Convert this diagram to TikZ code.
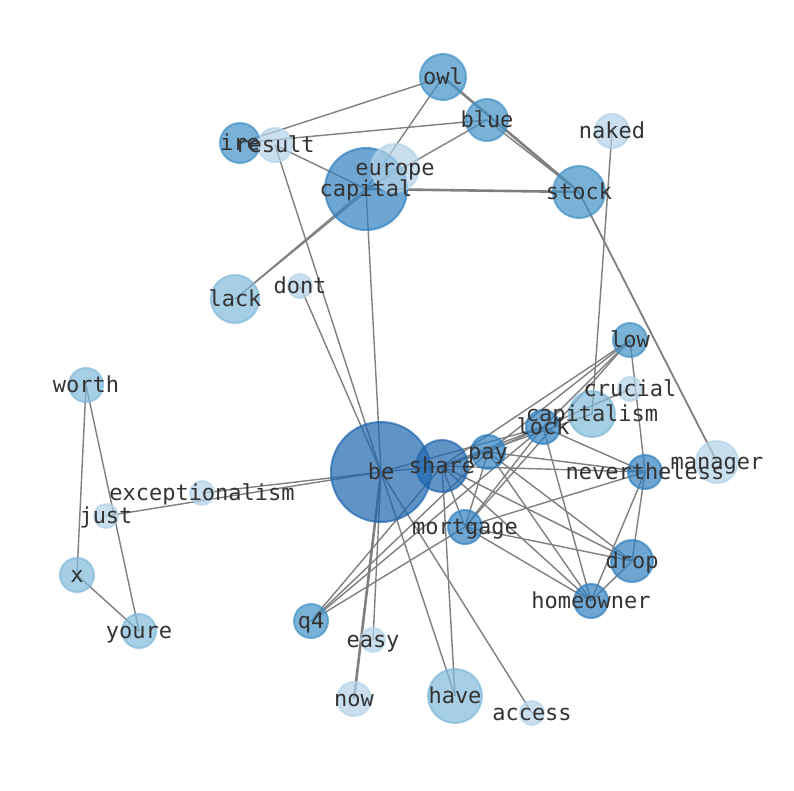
\documentclass[tikz,border=0pt]{standalone}
\usepackage{fontspec}
\setmonofont{DejaVu Sans Mono}
\usepackage{tikz}

\definecolor{blA}{HTML}{B3D3E8}
\definecolor{blB}{HTML}{80B9D9}
\definecolor{blC}{HTML}{4292C6}
\definecolor{blD}{HTML}{2F80C0}
\definecolor{blE}{HTML}{1E66AE}
\definecolor{edgegray}{HTML}{7F7F7F}
\definecolor{txtgray}{HTML}{333333}

\pgfdeclarelayer{bg}
\pgfsetlayers{bg,main}

\begin{document}
\begin{tikzpicture}[x=1pt,y=-1pt,
  word/.style={circle,inner sep=0pt,fill=#1,draw=#1,line width=2pt,opacity=0.7},
  lbl/.style={font=\ttfamily\fontsize{22}{26}\selectfont,text=txtgray,inner sep=0pt,text height=19pt,text depth=4pt},
  link/.style={draw=edgegray,line width=1.4pt},
  heavy/.style={draw=edgegray,line width=2.6pt}]
\useasboundingbox (0,0) rectangle (794,790);
% top group
\node[word=blC,minimum size=46pt] (owl) at (443,77) {};
\node[word=blC,minimum size=42pt] (blue) at (487,120) {};
\node[word=blC,minimum size=40pt] (ire) at (240,143) {};
\node[word=blA,minimum size=34pt] (result) at (275,145) {};
\node[word=blD,minimum size=82pt] (capital) at (366,189) {};
\node[word=blA,minimum size=48pt] (europe) at (395,168) {};
\node[word=blC,minimum size=52pt] (stock) at (579,192) {};
\node[word=blA,minimum size=34pt] (naked) at (612,131) {};
\node[word=blB,minimum size=48pt] (lack) at (235,299) {};
\node[word=blA,minimum size=24pt] (dont) at (300,286) {};
% middle group
\node[word=blC,minimum size=34pt] (low) at (630,340) {};
\node[word=blA,minimum size=24pt] (crucial) at (630,389) {};
\node[word=blB,minimum size=46pt] (capitalism) at (592,414) {};
\node[word=blD,minimum size=34pt] (lock) at (543,427) {};
\node[word=blD,minimum size=34pt] (pay) at (488,452) {};
\node[word=blE,minimum size=100pt] (be) at (381,472) {};
\node[word=blE,minimum size=52pt] (share) at (442,466) {};
\node[word=blD,minimum size=34pt] (nevertheless) at (645,472) {};
\node[word=blA,minimum size=42pt] (manager) at (717,462) {};
\node[word=blD,minimum size=34pt] (mortgage) at (465,527) {};
\node[word=blD,minimum size=42pt] (drop) at (632,561) {};
\node[word=blD,minimum size=34pt] (homeowner) at (591,601) {};
% left group
\node[word=blB,minimum size=34pt] (worth) at (86,385) {};
\node[word=blA,minimum size=24pt] (exceptionalism) at (202,493) {};
\node[word=blA,minimum size=24pt] (just) at (106,516) {};
\node[word=blB,minimum size=34pt] (x) at (77,575) {};
\node[word=blB,minimum size=34pt] (youre) at (139,631) {};
% bottom group
\node[word=blC,minimum size=34pt] (q4) at (311,621) {};
\node[word=blA,minimum size=24pt] (easy) at (373,640) {};
\node[word=blA,minimum size=34pt] (now) at (354,699) {};
\node[word=blB,minimum size=54pt] (have) at (455,696) {};
\node[word=blA,minimum size=24pt] (access) at (532,713) {};

% labels
\node[lbl] (owl-t) at (owl) {owl};
\node[lbl] (blue-t) at (blue) {blue};
\node[lbl] (ire-t) at (ire) {ire};
\node[lbl] (result-t) at (result) {result};
\node[lbl] (capital-t) at (capital) {capital};
\node[lbl] (europe-t) at (europe) {europe};
\node[lbl] (stock-t) at (stock) {stock};
\node[lbl] (naked-t) at (naked) {naked};
\node[lbl] (lack-t) at (lack) {lack};
\node[lbl] (dont-t) at (dont) {dont};
\node[lbl] (low-t) at (low) {low};
\node[lbl] (crucial-t) at (crucial) {crucial};
\node[lbl] (capitalism-t) at (capitalism) {capitalism};
\node[lbl] (lock-t) at (lock) {lock};
\node[lbl] (pay-t) at (pay) {pay};
\node[lbl] (be-t) at (be) {be};
\node[lbl] (share-t) at (share) {share};
\node[lbl] (nevertheless-t) at (nevertheless) {nevertheless};
\node[lbl] (manager-t) at (manager) {manager};
\node[lbl] (mortgage-t) at (mortgage) {mortgage};
\node[lbl] (drop-t) at (drop) {drop};
\node[lbl] (homeowner-t) at (homeowner) {homeowner};
\node[lbl] (worth-t) at (worth) {worth};
\node[lbl] (exceptionalism-t) at (exceptionalism) {exceptionalism};
\node[lbl] (just-t) at (just) {just};
\node[lbl] (x-t) at (x) {x};
\node[lbl] (youre-t) at (youre) {youre};
\node[lbl] (q4-t) at (q4) {q4};
\node[lbl] (easy-t) at (easy) {easy};
\node[lbl] (now-t) at (now) {now};
\node[lbl] (have-t) at (have) {have};
\node[lbl] (access-t) at (access) {access};

\begin{pgfonlayer}{bg}
% edges
\draw[link] (owl.center) -- (ire.center);
\draw[link] (owl.center) -- (capital.center);
\draw[heavy] (owl.center) -- (stock.center);
\draw[link] (blue.center) -- (ire.center);
\draw[link] (blue.center) -- (capital.center);
\draw[link] (blue.center) -- (stock.center);
\draw[heavy] (capital.center) -- (stock.center);
\draw[link] (capital.center) -- (lack.center);
\draw[link] (europe.center) -- (lack.center);
\draw[link] (capital.center) -- (result.center);
\draw[link] (capital.center) -- (be.center);
\draw[link] (result.center) -- (be.center);
\draw[link] (dont.center) -- (be.center);
\draw[link,line width=1.8pt] (stock.center) -- (manager.center);
\draw[link] (naked.center) -- (capitalism.center);
\draw[link] (worth.center) -- (x.center);
\draw[link] (worth.center) -- (youre.center);
\draw[link] (x.center) -- (youre.center);
\draw[link] (just.center) -- (be.center);
\draw[link] (exceptionalism.center) -- (be.center);
\draw[heavy] (be.center) -- (now.center);
\draw[link] (be.center) -- (easy.center);
\draw[link] (be.center) -- (have.center);
\draw[link] (be.center) -- (access.center);
\draw[link] (share.center) -- (have.center);
\draw[link] (q4.center) -- (share.center);
\draw[link] (q4.center) -- (pay.center);
\draw[link] (q4.center) -- (lock.center);
\draw[link] (q4.center) -- (mortgage.center);
\draw[link] (be.center) -- (share.center);
\draw[link] (be.center) -- (lock.center);
\draw[link] (share.center) -- (pay.center);
\draw[link] (share.center) -- (lock.center);
\draw[link] (share.center) -- (low.center);
\draw[link] (share.center) -- (capitalism.center);
\draw[link] (share.center) -- (nevertheless.center);
\draw[link] (share.center) -- (mortgage.center);
\draw[link] (share.center) -- (drop.center);
\draw[link] (share.center) -- (homeowner.center);
\draw[link] (pay.center) -- (lock.center);
\draw[link] (pay.center) -- (low.center);
\draw[link] (pay.center) -- (nevertheless.center);
\draw[link] (pay.center) -- (mortgage.center);
\draw[link] (pay.center) -- (drop.center);
\draw[link] (pay.center) -- (homeowner.center);
\draw[link] (lock.center) -- (low.center);
\draw[link] (lock.center) -- (crucial.center);
\draw[link] (lock.center) -- (nevertheless.center);
\draw[link] (lock.center) -- (mortgage.center);
\draw[link] (lock.center) -- (homeowner.center);
\draw[link] (low.center) -- (nevertheless.center);
\draw[link] (low.center) -- (mortgage.center);
\draw[link] (mortgage.center) -- (nevertheless.center);
\draw[link] (mortgage.center) -- (drop.center);
\draw[link] (mortgage.center) -- (homeowner.center);
\draw[link] (nevertheless.center) -- (drop.center);
\draw[link] (nevertheless.center) -- (homeowner.center);
\draw[link] (drop.center) -- (homeowner.center);
\end{pgfonlayer}
\end{tikzpicture}
\end{document}
